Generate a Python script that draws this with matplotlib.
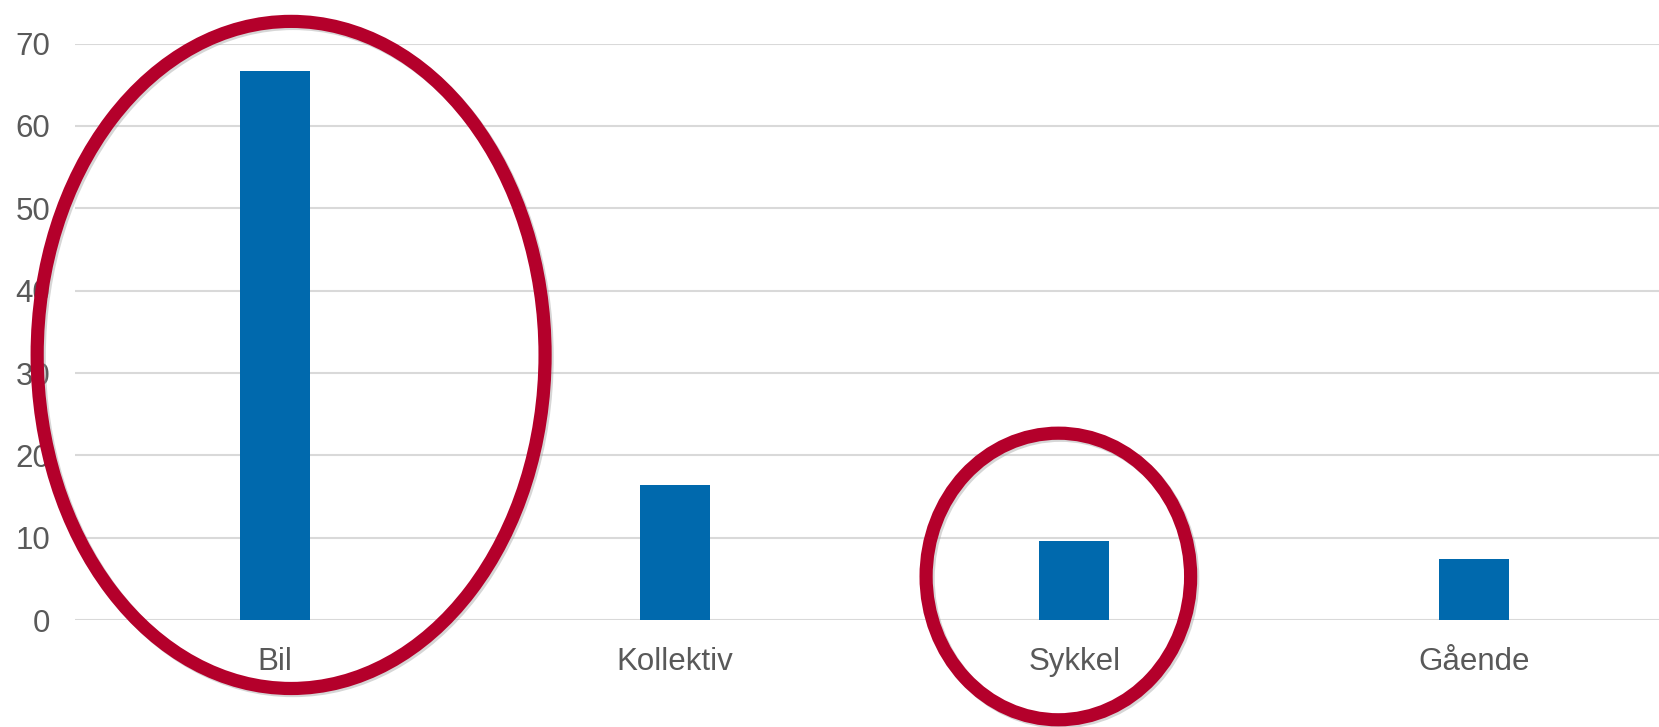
import matplotlib.pyplot as plt
import matplotlib.patheffects as pe
from matplotlib.patches import Ellipse

categories = ['Bil', 'Kollektiv', 'Sykkel', 'Gående']
values = [66.7, 16.4, 9.6, 7.4]
yticks = [0, 10, 20, 30, 40, 50, 60, 70]

plt.rcParams['font.family'] = ['Liberation Sans', 'DejaVu Sans']

fig = plt.figure(figsize=(16.59, 7.27), dpi=100)
ax = fig.add_axes([0.0454, 0.147, 0.9635, 0.793])

x = range(len(categories))
ax.bar(x, values, width=0.175, color='#0069AD', zorder=2)

ax.set_xlim(-0.5, len(categories) - 0.5)
ax.set_ylim(0, 70)
ax.set_yticks(yticks)
ax.set_xticks(list(x))
ax.set_xticklabels(categories)
ax.grid(axis='y', color='#D9D9D9', linewidth=1.5, zorder=0)
for s in ax.spines.values():
    s.set_visible(False)
ax.tick_params(axis='both', length=0, labelsize=22.5, labelcolor='#595959')
ax.tick_params(axis='x', pad=19)
ax.tick_params(axis='y', pad=18)

# red highlight rings
for cx, cy, w, h in [(0.04, 32.2, 1.271, 81.0), (1.96, 5.3, 0.662, 34.8)]:
    ax.add_patch(Ellipse((cx, cy), w, h, fill=False, edgecolor='#B4002B',
                         linewidth=9.5, clip_on=False, zorder=5,
                         path_effects=[pe.SimpleLineShadow(offset=(1.5, -1.5), shadow_color='#999999', alpha=0.4),
                                       pe.Normal()]))

fig.savefig('out.png', dpi=100)
